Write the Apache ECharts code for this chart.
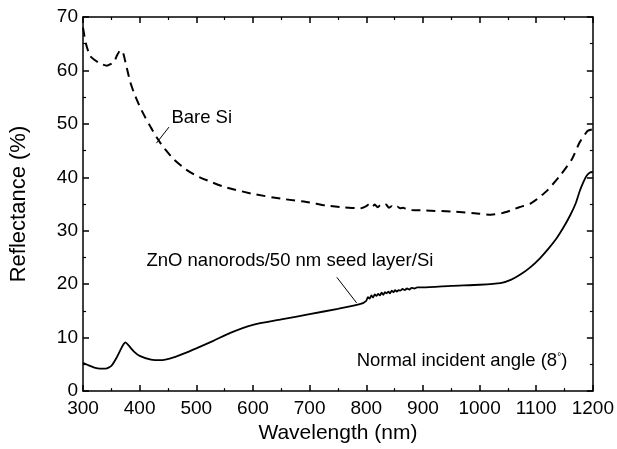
<!DOCTYPE html>
<html>
<head>
<meta charset="utf-8">
<script src="https://cdn.jsdelivr.net/npm/echarts@6/dist/echarts.min.js"></script>
<style>
  html, body { margin: 0; padding: 0; background: #fff; }
  #charts_box { width: 617px; height: 449px; }
</style>
</head>
<body>
<div id="charts_box"></div>
<script>
// reflectance spectra
var bareSiWl = [300, 305, 312, 320, 330, 342, 354, 360, 366, 371, 375, 383, 390, 400, 410, 420, 430, 440, 460, 480, 500, 520, 550, 600, 650, 700, 730, 760, 790,
  800, 805, 810, 815, 820, 825, 830, 835, 840, 845, 850, 855, 860, 865, 870, 880, 900, 950, 1000, 1020, 1040, 1055, 1070, 1090, 1105, 1120, 1142, 1163, 1177, 1191, 1200];
var bareSiR = [68.0, 65.1, 62.8, 62.0, 61.3, 60.9, 61.5, 62.8, 63.8, 63.2, 61.5, 58.0, 55.8, 53.3, 51.2, 49.3, 47.5, 45.9, 43.4, 41.6, 40.3, 39.4, 38.2, 36.9, 36.0, 35.3, 34.7, 34.4, 34.2,
  34.6, 35.0, 34.5, 34.9, 34.4, 34.8, 34.6, 34.9, 34.3, 34.6, 34.2, 34.5, 34.2, 34.3, 34.1, 33.9, 33.8, 33.6, 33.2, 33.0, 33.3, 33.8, 34.4, 35.1, 36.2, 37.6, 40.3, 43.4, 46.6, 48.7, 49.0];

var znoWl = [300, 310, 320, 330, 340, 350, 360, 370, 375, 380, 390, 400, 420, 440, 460, 480, 500, 530, 560, 600, 650, 700, 750, 790,
  800, 803, 806, 809, 812, 815, 818, 821, 824, 827, 830, 833, 836, 839, 842, 845, 848, 851, 854, 857, 860, 864, 868, 872, 876, 880, 885, 890, 900,
  950, 1000, 1037, 1055, 1072, 1090, 1107, 1122, 1136, 1148, 1160, 1170, 1177, 1184, 1189, 1195, 1200];
var znoR = [5.3, 4.8, 4.4, 4.2, 4.2, 4.7, 6.4, 8.5, 9.1, 8.6, 7.4, 6.6, 5.9, 5.8, 6.3, 7.1, 8.0, 9.4, 10.9, 12.4, 13.4, 14.4, 15.4, 16.3,
  16.9, 17.6, 17.3, 17.9, 17.5, 18.1, 17.8, 18.2, 17.9, 18.4, 18.0, 18.5, 18.3, 18.6, 18.3, 18.8, 18.5, 18.9, 18.6, 18.9, 18.8, 19.1, 18.9, 19.2, 19.0, 19.3, 19.2, 19.4, 19.4,
  19.7, 19.9, 20.2, 20.8, 21.8, 23.2, 24.9, 26.7, 28.6, 30.6, 32.9, 35.2, 37.5, 39.3, 40.3, 40.9, 41.0];

var xTicks = [300, 400, 500, 600, 700, 800, 900, 1000, 1100, 1200];
var yTicks = [0, 10, 20, 30, 40, 50, 60, 70];

// annotation text and leader lines, in data units
var notes = [
  { text: 'Bare Si', at: [456, 51.2], line: [[451.8, 49.4], [429.6, 46.4]] },
  { text: 'ZnO nanorods/50 nm seed layer/Si', at: [412, 24.3], line: [[748, 21.3], [783, 16.5]] },
  { text: 'Normal incident angle (8{sup|°})', at: [783, 5.57], line: null }
];

function pairs(xs, ys) {
  var out = [];
  for (var i = 0; i < xs.length; i++) out.push([xs[i], ys[i]]);
  return out;
}

var FONT = '"Liberation Sans", Arial, sans-serif';

window.onload = function () {
  var myChart = echarts.init(document.getElementById('charts_box'));

  var tickCommon = { show: true, inside: true, length: 6, lineStyle: { color: '#000', width: 1.5 } };
  var minorCommon = { show: true, splitNumber: 2, length: 3, lineStyle: { color: '#000', width: 1.2 } };
  var lineCommon = { show: true, onZero: false, lineStyle: { color: '#000', width: 1.5 } };

  var option = {
    animation: false,
    backgroundColor: '#fff',
    grid: { left: 79, right: 23, top: 17, bottom: 55, containLabel: false },
    xAxis: [
      {
        type: 'value', min: 300, max: 1200, interval: 100,
        name: 'Wavelength (nm)', nameLocation: 'middle', nameGap: 31,
        nameTextStyle: { fontFamily: FONT, fontSize: 21, color: '#000' },
        axisLine: lineCommon, axisTick: tickCommon, minorTick: minorCommon,
        splitLine: { show: false },
        axisLabel: {
          margin: 8, fontFamily: FONT, fontSize: 19, color: '#000',
          formatter: function (v) { return xTicks.indexOf(v) >= 0 ? String(v) : ''; }
        }
      },
      {
        type: 'value', position: 'top', min: 300, max: 1200, interval: 100,
        axisLine: lineCommon, axisTick: tickCommon, minorTick: minorCommon,
        splitLine: { show: false }, axisLabel: { show: false }
      }
    ],
    yAxis: [
      {
        type: 'value', min: 0, max: 70, interval: 10,
        name: 'Reflectance (%)', nameLocation: 'middle', nameGap: 53,
        nameTextStyle: { fontFamily: FONT, fontSize: 22, color: '#000' },
        axisLine: lineCommon, axisTick: tickCommon, minorTick: minorCommon,
        splitLine: { show: false },
        axisLabel: {
          margin: 5, fontFamily: FONT, fontSize: 19, color: '#000',
          formatter: function (v) { return yTicks.indexOf(v) >= 0 ? String(v) : ''; }
        }
      },
      {
        type: 'value', position: 'right', min: 0, max: 70, interval: 10,
        axisLine: lineCommon, axisTick: tickCommon, minorTick: minorCommon,
        splitLine: { show: false }, axisLabel: { show: false }
      }
    ],
    series: [
      {
        name: 'Bare Si', type: 'line', showSymbol: false, smooth: 0.2,
        data: pairs(bareSiWl, bareSiR),
        lineStyle: { color: '#000', width: 2, type: [9, 6] }
      },
      {
        name: 'ZnO', type: 'line', showSymbol: false, smooth: 0.2,
        data: pairs(znoWl, znoR),
        lineStyle: { color: '#000', width: 1.8 }
      }
    ]
  };
  myChart.setOption(option);

  // annotations placed through the chart's own coordinate conversion
  var g = [];
  notes.forEach(function (n) {
    var p = myChart.convertToPixel({ gridIndex: 0 }, n.at);
    g.push({
      type: 'text', x: p[0], y: p[1],
      style: {
        text: n.text, fill: '#000', fontFamily: FONT, fontSize: 18.5,
        verticalAlign: 'middle', align: 'left',
        rich: { sup: { fontSize: 10, verticalAlign: 'top', padding: [0, 0, 9, 0], fontFamily: FONT } }
      }
    });
    if (n.line) {
      var a = myChart.convertToPixel({ gridIndex: 0 }, n.line[0]);
      var b = myChart.convertToPixel({ gridIndex: 0 }, n.line[1]);
      g.push({
        type: 'line',
        shape: { x1: a[0], y1: a[1], x2: b[0], y2: b[1] },
        style: { stroke: '#000', lineWidth: 1 }
      });
    }
  });
  myChart.setOption({ graphic: g });
};
</script>
</body>
</html>
